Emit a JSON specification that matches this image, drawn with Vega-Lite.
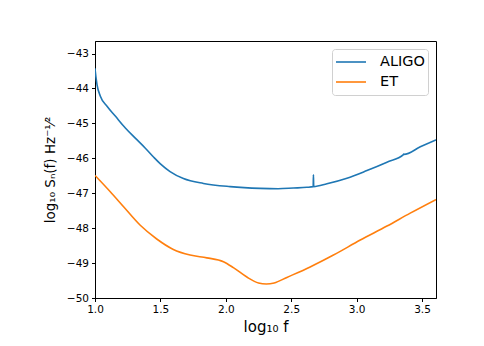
{
  "$schema": "https://vega.github.io/schema/vega-lite/v6.json",
  "width": 341,
  "height": 257,
  "autosize": {"type": "none"},
  "padding": {"left": 95, "top": 41, "right": 48, "bottom": 48},
  "background": "white",
  "config": {
    "font": "DejaVu Sans",
    "view": {"stroke": "black", "strokeWidth": 1},
    "axis": {
      "grid": false,
      "domainColor": "black",
      "tickColor": "black",
      "tickSize": 3.5,
      "labelColor": "black",
      "labelFont": "DejaVu Sans",
      "labelFontSize": 10.5,
      "labelPadding": 3,
      "labelFlush": false,
      "titleFont": "DejaVu Sans",
      "titleFontSize": 15,
      "titleFontWeight": "normal",
      "titleColor": "black"
    }
  },
  "data": {
    "values": [
      {"det": "ALIGO", "x": 1.0, "y": -43.42},
      {"det": "ALIGO", "x": 1.002, "y": -43.5},
      {"det": "ALIGO", "x": 1.015, "y": -43.88},
      {"det": "ALIGO", "x": 1.041, "y": -44.22},
      {"det": "ALIGO", "x": 1.092, "y": -44.51},
      {"det": "ALIGO", "x": 1.155, "y": -44.79},
      {"det": "ALIGO", "x": 1.232, "y": -45.13},
      {"det": "ALIGO", "x": 1.308, "y": -45.42},
      {"det": "ALIGO", "x": 1.385, "y": -45.71},
      {"det": "ALIGO", "x": 1.449, "y": -45.97},
      {"det": "ALIGO", "x": 1.5, "y": -46.16},
      {"det": "ALIGO", "x": 1.574, "y": -46.38},
      {"det": "ALIGO", "x": 1.676, "y": -46.58},
      {"det": "ALIGO", "x": 1.829, "y": -46.72},
      {"det": "ALIGO", "x": 2.033, "y": -46.81},
      {"det": "ALIGO", "x": 2.262, "y": -46.86},
      {"det": "ALIGO", "x": 2.4, "y": -46.87},
      {"det": "ALIGO", "x": 2.517, "y": -46.85},
      {"det": "ALIGO", "x": 2.62, "y": -46.83},
      {"det": "ALIGO", "x": 2.668, "y": -46.81},
      {"det": "ALIGO", "x": 2.67, "y": -46.47},
      {"det": "ALIGO", "x": 2.672, "y": -46.81},
      {"det": "ALIGO", "x": 2.773, "y": -46.73},
      {"det": "ALIGO", "x": 2.926, "y": -46.57},
      {"det": "ALIGO", "x": 3.079, "y": -46.35},
      {"det": "ALIGO", "x": 3.232, "y": -46.11},
      {"det": "ALIGO", "x": 3.358, "y": -45.895},
      {"det": "ALIGO", "x": 3.36, "y": -45.875},
      {"det": "ALIGO", "x": 3.362, "y": -45.888},
      {"det": "ALIGO", "x": 3.487, "y": -45.67},
      {"det": "ALIGO", "x": 3.607, "y": -45.47},
      {"det": "ET", "x": 1.0, "y": -46.49},
      {"det": "ET", "x": 1.115, "y": -46.95},
      {"det": "ET", "x": 1.217, "y": -47.38},
      {"det": "ET", "x": 1.344, "y": -47.91},
      {"det": "ET", "x": 1.472, "y": -48.31},
      {"det": "ET", "x": 1.599, "y": -48.61},
      {"det": "ET", "x": 1.727, "y": -48.77},
      {"det": "ET", "x": 1.855, "y": -48.85},
      {"det": "ET", "x": 1.982, "y": -48.96},
      {"det": "ET", "x": 2.058, "y": -49.13},
      {"det": "ET", "x": 2.161, "y": -49.4},
      {"det": "ET", "x": 2.25, "y": -49.57},
      {"det": "ET", "x": 2.31, "y": -49.6},
      {"det": "ET", "x": 2.37, "y": -49.57},
      {"det": "ET", "x": 2.467, "y": -49.41},
      {"det": "ET", "x": 2.645, "y": -49.11},
      {"det": "ET", "x": 2.823, "y": -48.77},
      {"det": "ET", "x": 3.028, "y": -48.34},
      {"det": "ET", "x": 3.232, "y": -47.94},
      {"det": "ET", "x": 3.41, "y": -47.57},
      {"det": "ET", "x": 3.607, "y": -47.18}
    ]
  },
  "mark": {"type": "line", "strokeWidth": 1.6, "clip": true, "interpolate": "monotone"},
  "encoding": {
    "x": {
      "field": "x",
      "type": "quantitative",
      "scale": {"domain": [1, 3.607], "nice": false, "zero": false},
      "axis": {
        "values": [1.0, 1.5, 2.0, 2.5, 3.0, 3.5],
        "format": ".1f",
        "title": "log₁₀ f",
        "titlePadding": 4
      }
    },
    "y": {
      "field": "y",
      "type": "quantitative",
      "scale": {"domain": [-50, -42.64], "nice": false, "zero": false},
      "axis": {
        "values": [-50, -49, -48, -47, -46, -45, -44, -43],
        "format": "d",
        "title": "log₁₀ Sₙ(f) Hz⁻¹⁄²",
        "titleFontSize": 13.5,
        "titlePadding": 9
      }
    },
    "color": {
      "field": "det",
      "type": "nominal",
      "scale": {"domain": ["ALIGO", "ET"], "range": ["#1f77b4", "#ff7f0e"]},
      "legend": {
        "title": null,
        "orient": "top-right",
        "offset": 8,
        "padding": 3,
        "strokeColor": "#d0d0d0",
        "fillColor": "white",
        "cornerRadius": 3,
        "symbolType": "stroke",
        "symbolSize": 900,
        "symbolStrokeWidth": 1.6,
        "labelFont": "DejaVu Sans",
        "labelFontSize": 14.5,
        "labelColor": "black",
        "labelOffset": 13,
        "clipHeight": 20,
        "rowPadding": 0
      }
    }
  }
}
